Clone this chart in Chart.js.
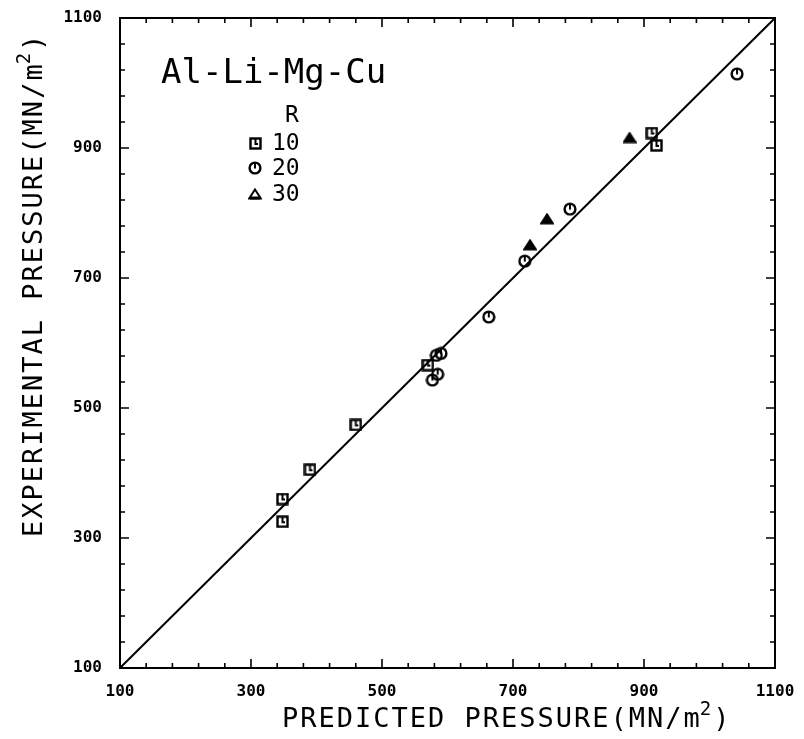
<!DOCTYPE html>
<html>
<head>
<meta charset="utf-8">
<title>Al-Li-Mg-Cu pressure</title>
<script src="https://cdn.jsdelivr.net/npm/chart.js@4.4.1/dist/chart.umd.min.js"></script>
<style>
  html, body { margin: 0; padding: 0; background: #fff; }
  #wrap { width: 804px; height: 739px; }
</style>
</head>
<body>
<div id="wrap"><canvas id="chart" width="804" height="739"></canvas></div>
<script>
// ========== Data ==========
const axisTicks = [100, 300, 500, 700, 900, 1100];
const minorTicks = [100, 140, 180, 220, 260, 300, 340, 380, 420, 460, 500, 540, 580, 620,
  660, 700, 740, 780, 820, 860, 900, 940, 980, 1020, 1060, 1100];

// R = 10 (squares)
const r10Predicted = [348, 348, 390, 460, 570, 912, 919];
const r10Experimental = [325, 360, 405, 474, 566, 923, 904];
// R = 20 (circles)
const r20Predicted = [577, 585, 583, 590, 663, 718, 787, 1042];
const r20Experimental = [543, 552, 581, 584, 640, 726, 806, 1014];
// R = 30 (triangles)
const r30Predicted = [726, 752, 878];
const r30Experimental = [751, 791, 916];

// 1:1 line
const lineX = [100, 1100];
const lineY = [100, 1100];

const legendTitle = 'R';
const legendLabels = ['10', '20', '30'];
const alloyLabel = 'Al-Li-Mg-Cu';

// ========== Marker images ==========
function makeSquare() {
  const c = document.createElement('canvas');
  c.width = 13; c.height = 13;
  const g = c.getContext('2d');
  g.strokeStyle = '#000'; g.lineWidth = 2.4;
  g.strokeRect(1.5, 1.5, 10, 10);
  g.lineWidth = 2;
  g.beginPath(); g.moveTo(6.5, 2); g.lineTo(6.5, 7); g.lineTo(9, 7); g.stroke();
  return c;
}
function makeCircle() {
  const c = document.createElement('canvas');
  c.width = 14; c.height = 14;
  const g = c.getContext('2d');
  g.strokeStyle = '#000'; g.lineWidth = 2.4;
  g.beginPath(); g.arc(7, 7, 5.4, 0, Math.PI * 2); g.stroke();
  g.lineWidth = 2;
  g.beginPath(); g.moveTo(7, 2); g.lineTo(7, 7.5); g.stroke();
  return c;
}
function makeTriangle(filled) {
  const c = document.createElement('canvas');
  c.width = 14; c.height = 12;
  const g = c.getContext('2d');
  g.strokeStyle = '#000'; g.fillStyle = '#000'; g.lineWidth = 2;
  g.beginPath(); g.moveTo(7, 1.5); g.lineTo(12.8, 10.5); g.lineTo(1.2, 10.5); g.closePath();
  if (filled) g.fill();
  g.stroke();
  if (!filled) { g.lineWidth = 3; g.beginPath(); g.moveTo(2, 10); g.lineTo(12, 10); g.stroke(); }
  return c;
}

const squareImg = makeSquare();
const circleImg = makeCircle();
const triangleImg = makeTriangle(true);
const triangleLegendImg = makeTriangle(false);

function pairs(xs, ys) {
  return xs.map((x, i) => ({ x: x, y: ys[i] }));
}

// ========== Text helper: base + superscript + tail, left aligned ==========
function drawSupText(ctx, base, sup, tail, size, supSize) {
  const main = size + 'px "DejaVu Sans Mono"';
  const small = supSize + 'px "DejaVu Sans Mono"';
  let x = 0;
  ctx.font = main;
  ctx.fillText(base, x, 0);
  x += ctx.measureText(base).width;
  ctx.font = small;
  ctx.fillText(sup, x - 2, -size * 0.45);
  x += ctx.measureText(sup).width - 2;
  ctx.font = main;
  ctx.fillText(tail, x, 0);
}

// ========== Frame, inward ticks, titles, legend ==========
const decorPlugin = {
  id: 'decor',
  afterDraw(chart) {
    const ctx = chart.ctx;
    const { left, right, top, bottom } = chart.chartArea;
    const xs = chart.scales.x;
    const ys = chart.scales.y;
    ctx.save();
    ctx.strokeStyle = '#000';
    ctx.lineWidth = 2;
    ctx.strokeRect(left, top, right - left, bottom - top);

    ctx.lineWidth = 1.6;
    minorTicks.forEach(v => {
      const len = axisTicks.includes(v) ? 9 : 5;
      const px = xs.getPixelForValue(v);
      const py = ys.getPixelForValue(v);
      ctx.beginPath();
      ctx.moveTo(px, bottom); ctx.lineTo(px, bottom - len);
      ctx.moveTo(px, top); ctx.lineTo(px, top + len);
      ctx.moveTo(left, py); ctx.lineTo(left + len, py);
      ctx.moveTo(right, py); ctx.lineTo(right - len, py);
      ctx.stroke();
    });

    // axis titles
    ctx.fillStyle = '#000';
    ctx.textBaseline = 'alphabetic';
    ctx.textAlign = 'left';
    ctx.letterSpacing = '2px';
    ctx.save();
    ctx.translate(282, 727);
    drawSupText(ctx, 'PREDICTED PRESSURE(MN/m', '2', ')', 27, 19);
    ctx.restore();

    ctx.save();
    ctx.translate(42, 537);
    ctx.rotate(-Math.PI / 2);
    drawSupText(ctx, 'EXPERIMENTAL PRESSURE(MN/m', '2', ')', 27, 19);
    ctx.restore();
    ctx.letterSpacing = '0px';

    // alloy label
    ctx.font = '34px "DejaVu Sans Mono"';
    ctx.fillText(alloyLabel, 161, 83);

    // legend
    ctx.font = '23px "DejaVu Sans Mono"';
    ctx.textAlign = 'center';
    ctx.textBaseline = 'middle';
    ctx.fillText(legendTitle, 292, 116);
    ctx.textAlign = 'left';
    const imgs = [squareImg, circleImg, triangleLegendImg];
    const rows = [143, 168, 194];
    legendLabels.forEach((t, i) => {
      ctx.fillText(t, 272, rows[i] + 1);
      const im = imgs[i];
      ctx.drawImage(im, Math.round(255 - im.width / 2), Math.round(rows[i] - im.height / 2));
    });
    ctx.restore();
  }
};

// ========== Chart ==========
const tickFont = { family: 'DejaVu Sans Mono', size: 16, weight: 'bold' };

new Chart(document.getElementById('chart'), {
  type: 'scatter',
  data: {
    datasets: [
      {
        type: 'line',
        label: '1:1',
        data: pairs(lineX, lineY),
        borderColor: '#000',
        borderWidth: 2,
        pointRadius: 0,
        fill: false
      },
      {
        label: 'R = 10',
        data: pairs(r10Predicted, r10Experimental),
        pointStyle: squareImg,
        pointRadius: 6
      },
      {
        label: 'R = 20',
        data: pairs(r20Predicted, r20Experimental),
        pointStyle: circleImg,
        pointRadius: 6
      },
      {
        label: 'R = 30',
        data: pairs(r30Predicted, r30Experimental),
        pointStyle: triangleImg,
        pointRadius: 6
      }
    ]
  },
  options: {
    responsive: false,
    animation: false,
    layout: { padding: { top: 18, right: 29, left: 0, bottom: 0 } },
    plugins: {
      legend: { display: false },
      tooltip: { enabled: false }
    },
    scales: {
      x: {
        type: 'linear',
        min: 100,
        max: 1100,
        afterBuildTicks: (s) => { s.ticks = axisTicks.map(v => ({ value: v })); },
        ticks: { color: '#000', font: tickFont, padding: 6, maxRotation: 0, callback: (v) => String(v) },
        grid: { display: false },
        border: { display: false },
        afterFit: (s) => { s.height = 71; s.paddingLeft = 0; s.paddingRight = 0; }
      },
      y: {
        type: 'linear',
        min: 100,
        max: 1100,
        afterBuildTicks: (s) => { s.ticks = axisTicks.map(v => ({ value: v })); },
        ticks: { color: '#000', font: tickFont, padding: 10, callback: (v) => String(v) },
        grid: { display: false },
        border: { display: false },
        afterFit: (s) => { s.width = 120; s.paddingTop = 0; s.paddingBottom = 0; }
      }
    }
  },
  plugins: [decorPlugin]
});
</script>
</body>
</html>
